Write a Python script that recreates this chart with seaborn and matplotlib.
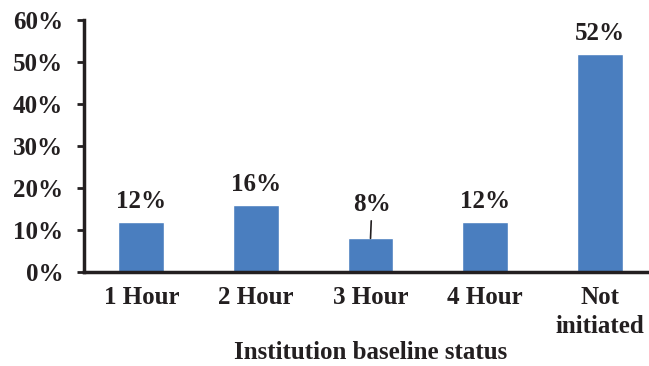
import seaborn as sns
import matplotlib.pyplot as plt
import pandas as pd

categories = ['1 Hour', '2 Hour', '3 Hour', '4 Hour', 'Not\ninitiated']
values = [12, 16, 8, 12, 52]
yticks = [0, 10, 20, 30, 40, 50, 60]

sns.set_style('white')
plt.rcParams['font.family'] = ['Liberation Serif', 'DejaVu Serif']
plt.rcParams['font.weight'] = 'bold'
ink = '#231F20'
fs = 18

df = pd.DataFrame({'status': categories, 'pct': values})

fig = plt.figure(figsize=(6.49, 3.66), dpi=100)
ax = fig.add_axes([0.1294, 0.2568, 0.883, 0.6885])

sns.barplot(x='status', y='pct', data=df, color='#4A7EBF', width=0.4,
            saturation=1, ax=ax)

ax.set_ylim(0, 60)
ax.set_xlim(-0.5, 4.5)
ax.set_yticks(yticks)
ax.set_yticklabels([f'{t}%' for t in yticks])

# ticks between categories like Excel
ax.set_xticks([i + 0.5 for i in range(len(categories) - 1)], minor=True)
ax.tick_params(axis='x', which='major', length=0, pad=10)
ax.tick_params(axis='x', which='minor', length=5, width=2, color=ink, direction='out')
ax.tick_params(axis='y', length=5, width=2, color=ink, direction='out', left=True, pad=10)
ax.tick_params(labelsize=fs, labelcolor=ink)
for lab in ax.get_xticklabels():
    lab.set_linespacing(1.35)

for side in ['top', 'right']:
    ax.spines[side].set_visible(False)
for side in ['left', 'bottom']:
    ax.spines[side].set_linewidth(2.5)
    ax.spines[side].set_color(ink)

ax.set_xlabel('Institution baseline status', fontsize=fs, fontweight='bold',
              color=ink, labelpad=2)
ax.set_ylabel('')

for i, v in enumerate(values):
    if v < 10:
        ax.annotate(f'{v}%', xy=(i, v), xytext=(1, 16), textcoords='offset points',
                    ha='center', va='bottom', fontsize=fs, fontweight='bold', color=ink,
                    arrowprops=dict(arrowstyle='-', color=ink, lw=1.2,
                                    shrinkA=1, shrinkB=0))
    else:
        ax.annotate(f'{v}%', xy=(i, v), xytext=(0, 6), textcoords='offset points',
                    ha='center', va='bottom', fontsize=fs, fontweight='bold', color=ink)

fig.savefig('out.png', dpi=100)
